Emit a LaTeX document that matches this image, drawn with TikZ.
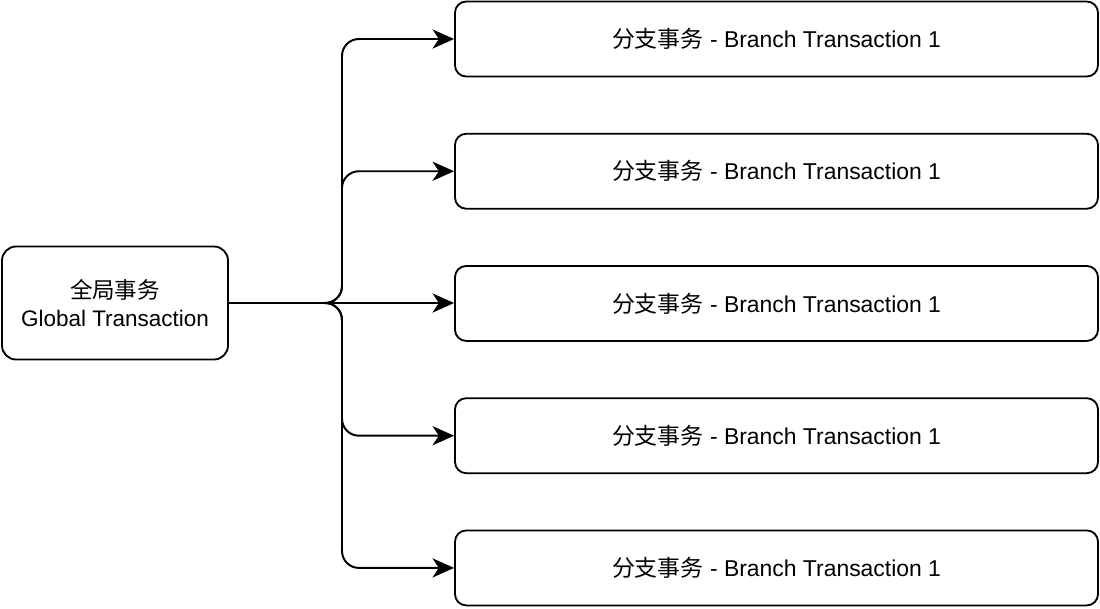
\documentclass[tikz,border=0pt]{standalone}
\usepackage{fontspec}
\setmainfont{Liberation Sans}
\newfontfamily\cjk{Noto Sans CJK SC}
\usetikzlibrary{arrows.meta, positioning}

\begin{document}
\begin{tikzpicture}[
        node distance=1.385cm,
        global/.style={rectangle, draw=black, line width=1.3pt, fill=white, minimum width=5.65cm, minimum height=2.825cm, align=center, rounded corners=10pt, font=\fontsize{16}{20}\selectfont},
        branch/.style={rectangle, draw=black, line width=1.3pt, fill=white, minimum width=16.075cm, minimum height=1.875cm, align=center, rounded corners=8pt, font=\fontsize{16.3}{20}\selectfont},
        arrow/.style={-{Stealth[length=5.4mm, width=4.8mm, inset=1.6mm]}, line width=1.4pt, rounded corners=12pt}
    ]
    \useasboundingbox (0,0) rectangle (27.5,-15.2);

    \node (glob) [global] at (2.875,-7.575) {{\cjk 全局事务}\\ Global Transaction};
    \node (b1) [branch] at (19.4125,-0.975) {{\cjk 分支事务} - Branch Transaction 1};
    \node (b2) [branch, below=of b1] {{\cjk 分支事务} - Branch Transaction 1};
    \node (b3) [branch, below=of b2] {{\cjk 分支事务} - Branch Transaction 1};
    \node (b4) [branch, below=of b3] {{\cjk 分支事务} - Branch Transaction 1};
    \node (b5) [branch, below=of b4] {{\cjk 分支事务} - Branch Transaction 1};
    \coordinate (trunk) at (8.55,0);

    \draw [arrow] (glob.east) -- (glob.east -| trunk) |- (b1.west);
    \draw [arrow] (glob.east) -- (glob.east -| trunk) |- (b2.west);
    \draw [arrow] (glob.east) -- (glob.east -| b3.west);
    \draw [arrow] (glob.east) -- (glob.east -| trunk) |- (b4.west);
    \draw [arrow] (glob.east) -- (glob.east -| trunk) |- (b5.west);

\end{tikzpicture}
\end{document}
